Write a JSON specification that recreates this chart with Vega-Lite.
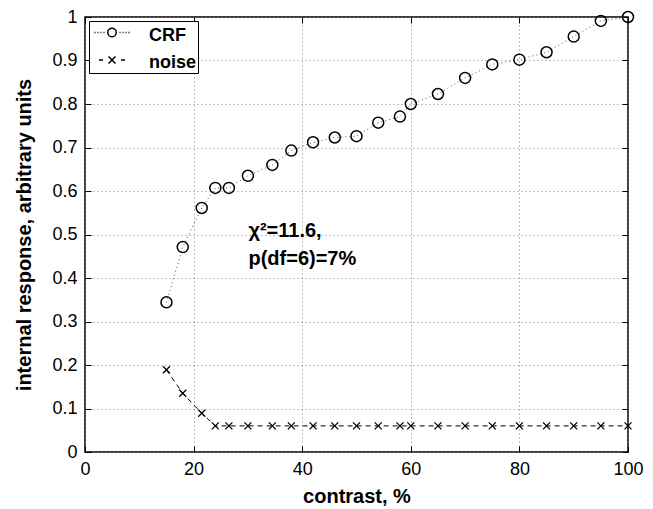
{
  "$schema": "https://vega.github.io/schema/vega-lite/v6.json",
  "width": 543,
  "height": 435,
  "autosize": {"type": "none"},
  "padding": {"left": 85, "top": 17, "right": 25, "bottom": 57},
  "background": "white",
  "config": {
    "font": "Liberation Sans",
    "view": {"stroke": "black", "strokeWidth": 1.5},
    "axis": {
      "labelFont": "Liberation Sans",
      "labelFontSize": 18,
      "labelColor": "black",
      "labelFlush": false,
      "titleFont": "Liberation Sans",
      "titleFontSize": 20,
      "titleFontWeight": "bold",
      "titleColor": "black",
      "domain": false,
      "tickColor": "black",
      "gridColor": "#808080",
      "gridDash": [1, 3],
      "gridWidth": 1
    },
    "legend": {
      "labelFont": "Liberation Sans",
      "labelFontSize": 18,
      "labelFontWeight": "bold",
      "labelColor": "black"
    }
  },
  "datasets": {
    "crf": [
      {"contrast": 15, "value": 0.344},
      {"contrast": 18, "value": 0.471},
      {"contrast": 21.5, "value": 0.561},
      {"contrast": 24, "value": 0.607},
      {"contrast": 26.5, "value": 0.607},
      {"contrast": 30, "value": 0.635},
      {"contrast": 34.5, "value": 0.660},
      {"contrast": 38, "value": 0.693},
      {"contrast": 42, "value": 0.712},
      {"contrast": 46, "value": 0.723},
      {"contrast": 50, "value": 0.726},
      {"contrast": 54, "value": 0.757},
      {"contrast": 58, "value": 0.771},
      {"contrast": 60, "value": 0.800},
      {"contrast": 65, "value": 0.823},
      {"contrast": 70, "value": 0.860},
      {"contrast": 75, "value": 0.891},
      {"contrast": 80, "value": 0.902},
      {"contrast": 85, "value": 0.919},
      {"contrast": 90, "value": 0.955},
      {"contrast": 95, "value": 0.991},
      {"contrast": 100, "value": 1.0}
    ],
    "noise": [
      {"contrast": 15, "value": 0.189},
      {"contrast": 18, "value": 0.135},
      {"contrast": 21.5, "value": 0.089},
      {"contrast": 24, "value": 0.06},
      {"contrast": 26.5, "value": 0.06},
      {"contrast": 30, "value": 0.06},
      {"contrast": 34.5, "value": 0.06},
      {"contrast": 38, "value": 0.06},
      {"contrast": 42, "value": 0.06},
      {"contrast": 46, "value": 0.06},
      {"contrast": 50, "value": 0.06},
      {"contrast": 54, "value": 0.06},
      {"contrast": 58, "value": 0.06},
      {"contrast": 60, "value": 0.06},
      {"contrast": 65, "value": 0.06},
      {"contrast": 70, "value": 0.06},
      {"contrast": 75, "value": 0.06},
      {"contrast": 80, "value": 0.06},
      {"contrast": 85, "value": 0.06},
      {"contrast": 90, "value": 0.06},
      {"contrast": 95, "value": 0.06},
      {"contrast": 100, "value": 0.06}
    ],
    "series": [
      {"series": "CRF"},
      {"series": "noise"}
    ],
    "note": [
      {"label": "χ²=11.6,\np(df=6)=7%"}
    ]
  },
  "layer": [
    {
      "data": {"name": "crf"},
      "mark": {"type": "line", "color": "#555555", "strokeWidth": 1, "strokeDash": [1, 3]},
      "encoding": {
        "x": {
          "field": "contrast", "type": "quantitative",
          "scale": {"domain": [0, 100], "nice": false, "zero": false},
          "axis": {"orient": "bottom", "title": "contrast, %", "values": [0, 20, 40, 60, 80, 100], "tickSize": -6, "labelPadding": 14, "titlePadding": 8, "grid": true}
        },
        "y": {
          "field": "value", "type": "quantitative",
          "scale": {"domain": [0, 1], "nice": false, "zero": false},
          "axis": {"orient": "left", "title": "internal response, arbitrary units", "values": [0, 0.1, 0.2, 0.3, 0.4, 0.5, 0.6, 0.7, 0.8, 0.9, 1], "format": "~g", "tickSize": -6, "labelPadding": 14, "titlePadding": 17, "grid": true}
        }
      }
    },
    {
      "data": {"name": "noise"},
      "mark": {"type": "line", "color": "black", "strokeWidth": 1, "strokeDash": [5, 4]},
      "encoding": {
        "x": {"field": "contrast", "type": "quantitative", "axis": {"orient": "top", "labels": false, "title": null, "grid": false, "tickSize": -6, "values": [0, 20, 40, 60, 80, 100]}},
        "y": {"field": "value", "type": "quantitative", "axis": {"orient": "right", "labels": false, "title": null, "grid": false, "tickSize": -6, "values": [0, 0.1, 0.2, 0.3, 0.4, 0.5, 0.6, 0.7, 0.8, 0.9, 1]}}
      }
    },
    {
      "data": {"name": "crf"},
      "mark": {"type": "point", "shape": "circle", "filled": false, "size": 121, "stroke": "black", "strokeWidth": 1.5, "opacity": 1},
      "encoding": {
        "x": {"field": "contrast", "type": "quantitative", "axis": null},
        "y": {"field": "value", "type": "quantitative", "axis": null}
      }
    },
    {
      "data": {"name": "noise"},
      "mark": {"type": "point", "shape": "M-1,-1L1,1M-1,1L1,-1", "filled": false, "size": 49, "stroke": "black", "strokeWidth": 1.3, "opacity": 1},
      "encoding": {
        "x": {"field": "contrast", "type": "quantitative", "axis": null},
        "y": {"field": "value", "type": "quantitative", "axis": null}
      }
    },
    {
      "data": {"name": "note"},
      "mark": {"type": "text", "align": "left", "baseline": "alphabetic", "font": "Liberation Sans", "fontSize": 20, "fontWeight": "bold", "color": "black", "lineBreak": "\n", "lineHeight": 28},
      "encoding": {
        "x": {"datum": 30.1, "type": "quantitative", "axis": null},
        "y": {"datum": 0.495, "type": "quantitative", "axis": null},
        "text": {"field": "label"}
      }
    },
    {
      "data": {"name": "series"},
      "transform": [{"filter": "false"}],
      "mark": {"type": "point", "filled": false, "stroke": "black"},
      "encoding": {
        "shape": {
          "field": "series", "type": "nominal",
          "scale": {
            "domain": ["CRF", "noise"],
            "range": [
              "M-0.72,-0.24L-0.64,-0.24M-0.48,-0.24L-0.4,-0.24M-0.24,-0.24L-0.16,-0.24M0,-0.24L0.08,-0.24M1.28,-0.24L1.36,-0.24M1.52,-0.24L1.6,-0.24M1.76,-0.24L1.84,-0.24M2.0,-0.24L2.08,-0.24M0.34,-0.24A0.34,0.34 0 1,1 1.02,-0.24A0.34,0.34 0 1,1 0.34,-0.24",
              "M-0.36,-0.24L-0.04,-0.24M1.4,-0.24L1.72,-0.24M0.4,-0.52L0.96,0.04M0.4,0.04L0.96,-0.52"
            ]
          },
          "legend": {
            "title": null,
            "orient": "top-left",
            "offset": 4,
            "padding": 1,
            "strokeColor": "black",
            "fillColor": "white",
            "symbolSize": 625,
            "symbolStrokeColor": "black",
            "symbolFillColor": "transparent",
            "symbolStrokeWidth": 1.5,
            "symbolOpacity": 1,
            "rowPadding": 4.5,
            "labelOffset": 32,
            "labelFontWeight": "bold",
            "labelFontSize": 18
          }
        }
      }
    }
  ]
}
